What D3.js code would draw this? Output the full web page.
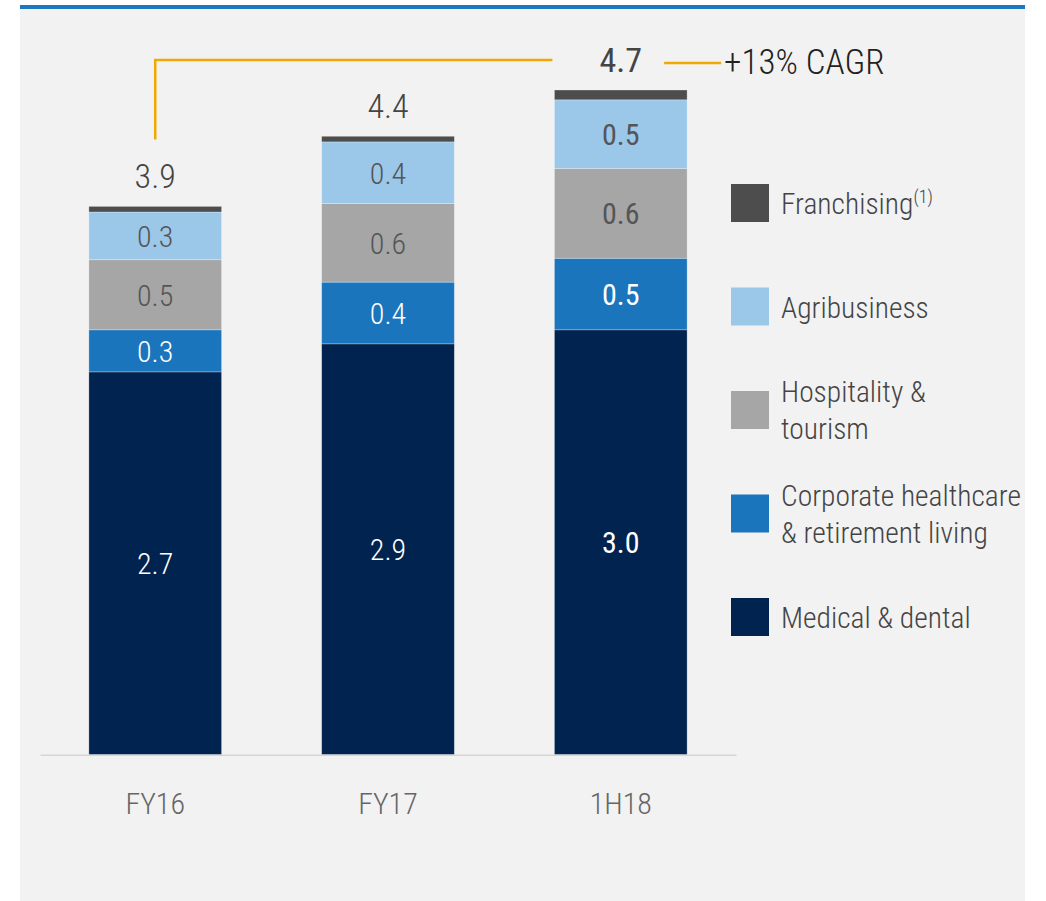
<!DOCTYPE html>
<html>
<head>
<meta charset="utf-8">
<script src="https://cdn.jsdelivr.net/npm/d3@7"></script>
<style>
  body { margin: 0; background: #fff; }
  svg text { font-family: "Roboto Condensed", "Liberation Sans Narrow", "DejaVu Sans Condensed", sans-serif; font-weight: 300; }
</style>
</head>
<body>
<div class="chart"></div>
<script>
// categories and series (A$ bn)
var periods = ["FY16", "FY17", "1H18"];
var medical = [2.73, 2.93, 3.03];
var corporate = [0.30, 0.44, 0.51];
var hospitality = [0.50, 0.56, 0.64];
var agribusiness = [0.34, 0.44, 0.49];
var franchising = [0.04, 0.04, 0.07];
var cagrLabel = "+13% CAGR";

var seriesNames = ["Medical & dental", "Corporate healthcare & retirement living", "Hospitality & tourism", "Agribusiness", "Franchising"];
var legendLines = [["Franchising"], ["Agribusiness"], ["Hospitality &", "tourism"], ["Corporate healthcare", "& retirement living"], ["Medical & dental"]];
var colors = ["#00234f", "#1b75bc", "#a6a6a6", "#9bc7e9", "#4d4d4d"];
var labelColors = ["#ffffff", "#ffffff", "#555555", "#555555", null];

document.addEventListener("DOMContentLoaded", function () {
    var w = 1046, h = 901;

    var rows = periods.map(function (p, i) {
        return {
            period: p,
            s0: medical[i], s1: corporate[i], s2: hospitality[i], s3: agribusiness[i], s4: franchising[i]
        };
    });
    var keys = ["s0", "s1", "s2", "s3", "s4"];
    var stacked = d3.stack().keys(keys)(rows);
    var totals = rows.map(function (r) { return d3.sum(keys, function (k) { return r[k]; }); });

    var svg = d3.select(".chart").append("svg")
        .attr("width", w).attr("height", h);

    // panel + top rule
    svg.append("rect").attr("x", 20).attr("y", 8).attr("width", 1005).attr("height", 893).attr("fill", "#f2f2f2");
    svg.append("rect").attr("x", 20).attr("y", 5).attr("width", 1005).attr("height", 4).attr("fill", "#1f77c0");

    var x = d3.scaleBand().domain(periods).range([40, 736]).paddingInner(0.43).paddingOuter(0.21);
    var y = d3.scaleLinear().domain([0, d3.max(totals)]).range([754.7, 90]);
    var fmt = d3.format(".1f");

    var layers = svg.selectAll("g.layer").data(stacked).enter().append("g")
        .attr("class", "layer")
        .attr("fill", function (d, i) { return colors[i]; });

    layers.selectAll("rect").data(function (d) { return d; }).enter().append("rect")
        .attr("x", function (d) { return x(d.data.period); })
        .attr("y", function (d) { return y(d[1]); })
        .attr("width", x.bandwidth())
        .attr("height", function (d) { return y(d[0]) - y(d[1]); })
        .attr("stroke", "rgba(255,255,255,0.35)")
        .attr("stroke-width", 0.8);

    // segment labels
    stacked.forEach(function (layer, li) {
        if (!labelColors[li]) return;
        svg.append("g").selectAll("text").data(layer).enter().append("text")
            .attr("x", function (d) { return x(d.data.period) + x.bandwidth() / 2; })
            .attr("y", function (d) { return (y(d[0]) + y(d[1])) / 2; })
            .attr("dy", "0.36em")
            .attr("text-anchor", "middle")
            .attr("font-size", 30)
            .style("font-weight", function (d, i) { return i === 2 ? 400 : 300; })
            .attr("fill", labelColors[li])
            .text(function (d) { return fmt(d[1] - d[0]); });
    });

    // totals
    svg.append("g").selectAll("text").data(totals).enter().append("text")
        .attr("x", function (d, i) { return x(periods[i]) + x.bandwidth() / 2; })
        .attr("y", function (d) { return y(d) - 18; })
        .attr("text-anchor", "middle")
        .attr("font-size", 34)
        .style("font-weight", function (d, i) { return i === 2 ? 400 : 300; })
        .attr("fill", "#444")
        .text(function (d) { return fmt(d); });

    // CAGR bracket
    var gold = "#f0a900";
    var xa = x(periods[0]) + x.bandwidth() / 2;
    var yTop = y(totals[2]) - 30;
    svg.append("path")
        .attr("d", "M" + xa + "," + (y(totals[0]) - 67) + "V" + yTop + "H" + (x(periods[2]) - 2))
        .attr("fill", "none").attr("stroke", gold).attr("stroke-width", 2.5);
    var xr = x(periods[2]) + x.bandwidth();
    svg.append("line")
        .attr("x1", xr - 23).attr("x2", xr + 34).attr("y1", yTop + 3).attr("y2", yTop + 3)
        .attr("stroke", gold).attr("stroke-width", 2.5);
    svg.append("text")
        .attr("x", xr + 37).attr("y", yTop + 14)
        .attr("font-size", 35).attr("fill", "#222")
        .text(cagrLabel);

    // x axis
    var axis = svg.append("g")
        .attr("transform", "translate(0," + y(0) + ")")
        .call(d3.axisBottom(x).tickSize(0).tickSizeOuter(0).tickPadding(38));
    axis.select(".domain").attr("stroke", "#d6d6d6").attr("stroke-width", 1.5);
    axis.selectAll("text")
        .style("font-family", "\"Roboto Condensed\", \"Liberation Sans Narrow\", sans-serif")
        .style("font-weight", 300)
        .attr("font-size", 30).attr("fill", "#666");

    // legend
    var legend = svg.append("g").selectAll("g").data(legendLines).enter().append("g")
        .attr("transform", function (d, i) { return "translate(731," + (184 + i * 103.5) + ")"; });
    legend.append("rect")
        .attr("width", 38).attr("height", 38)
        .attr("fill", function (d, i) { return colors[4 - i]; });
    legend.each(function (lines) {
        var g = d3.select(this);
        var t = g.append("text").attr("x", 50).attr("font-size", 29.5).attr("fill", "#444");
        var first = lines.length === 1 ? 30 : 11;
        lines.forEach(function (line, j) {
            t.append("tspan").attr("x", 50).attr("y", first + j * 37).text(line);
        });
        if (lines[0] === "Franchising") {
            t.append("tspan").attr("dy", -11).attr("font-size", 18).text("(1)");
        }
    });
});
</script>
</body>
</html>
